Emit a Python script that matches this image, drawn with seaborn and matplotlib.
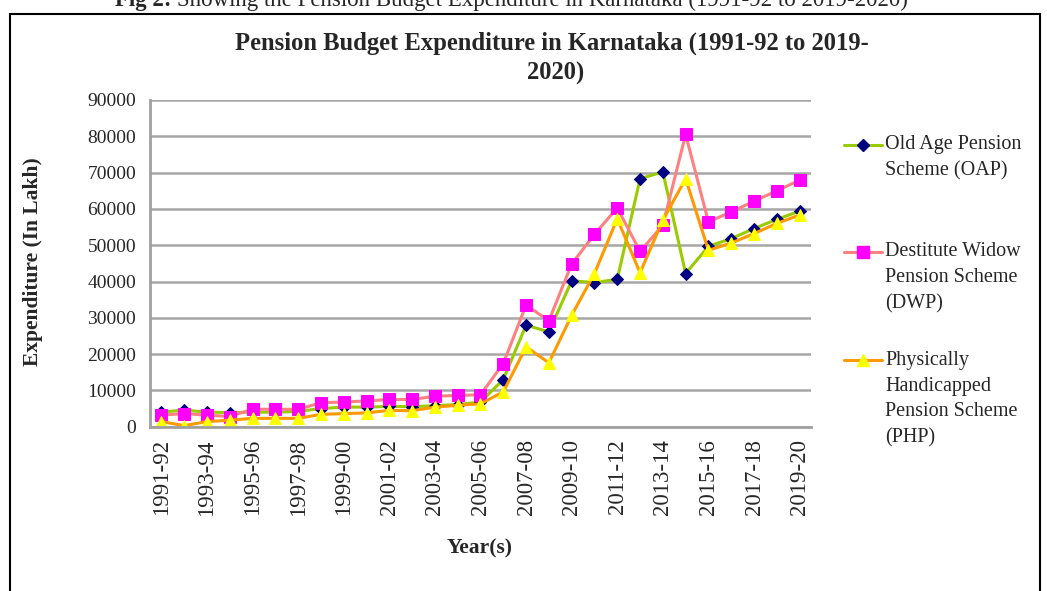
import numpy as np
import pandas as pd
import matplotlib.pyplot as plt
import seaborn as sns
from matplotlib.lines import Line2D
from matplotlib.patches import Rectangle

# Dados (em Lakh)
years = ['1991-92', '1992-93', '1993-94', '1994-95', '1995-96', '1996-97', '1997-98',
         '1998-99', '1999-00', '2000-01', '2001-02', '2002-03', '2003-04', '2004-05',
         '2005-06', '2006-07', '2007-08', '2008-09', '2009-10', '2010-11', '2011-12',
         '2012-13', '2013-14', '2014-15', '2015-16', '2016-17', '2017-18', '2018-19',
         '2019-20']
oap = [4000, 4600, 4000, 3900, 4000, 4000, 4200, 5000, 5400, 5400, 5600, 5500, 5800, 6100,
       6800, 13000, 28000, 26100, 40200, 39700, 40600, 68300, 70200, 42200, 49700, 51800,
       54600, 57100, 59400]
dwp = [3200, 3600, 3200, 2800, 4800, 4800, 4800, 6600, 6800, 7100, 7500, 7500, 8400, 8600,
       8800, 17400, 33500, 29200, 44800, 53000, 60300, 48300, 55500, 80500, 56400, 59200,
       62100, 65000, 67900]
php = [1400, 300, 1400, 1800, 2300, 2300, 2300, 3400, 3600, 3800, 4500, 4400, 5400, 5900,
       6300, 9600, 22000, 17600, 30700, 42200, 57300, 42400, 56900, 68300, 48600, 50600,
       53200, 56000, 58300]

df = pd.DataFrame({'year': years, 'OAP': oap, 'DWP': dwp, 'PHP': php})

# (coluna, cor da linha, marcador, cor do marcador, tamanho, rótulo)
series = [
    ('OAP', '#99CC00', 'D', '#000080', 6, 'Old Age Pension\nScheme (OAP)'),
    ('DWP', '#FF8080', 's', '#FF00FF', 8, 'Destitute Widow\nPension Scheme\n(DWP)'),
    ('PHP', '#FF9900', '^', '#FFFF00', 9, 'Physically\nHandicapped\nPension Scheme\n(PHP)'),
]

sns.set_style('white')
plt.rcParams['font.family'] = ['Liberation Serif', 'DejaVu Serif']

W, H = 1047, 591
fig = plt.figure(figsize=(W / 100, H / 100), dpi=100)
ax = fig.add_axes([150 / W, 1 - 426.7 / H, (811 - 150) / W, (426.7 - 100) / H])

for col, lc, mk, mc, ms, label in series:
    sns.lineplot(data=df, x='year', y=col, ax=ax, color=lc, linewidth=2.2, sort=False,
                 marker=mk, markersize=ms, markerfacecolor=mc, markeredgecolor=mc)

ax.set_xlim(-0.5, len(years) - 0.5)
ax.set_ylim(0, 90000)
ax.set_yticks(range(0, 90001, 10000))
ax.set_yticklabels([str(v) for v in range(0, 90001, 10000)], fontsize=14)
ax.set_xticks(range(0, len(years), 2))
ax.set_xticklabels(years[::2], rotation=90, fontsize=16.5)
ax.set_xticks(np.arange(-0.5, len(years), 1), minor=True)
ax.tick_params(axis='x', which='major', length=0, pad=9)
ax.tick_params(axis='x', which='minor', length=10, width=2, color='#A0A0A0', direction='out')
ax.tick_params(axis='y', length=0, pad=10)
ax.yaxis.grid(True, color='#A6A6A6', linewidth=1.8)
ax.set_axisbelow(True)
for s in ['top', 'right']:
    ax.spines[s].set_visible(False)
for s in ['left', 'bottom']:
    ax.spines[s].set_color('#A0A0A0')
    ax.spines[s].set_linewidth(2)
ax.set_xlabel('')
ax.set_ylabel('')

# Títulos e rótulos dos eixos
fig.text(552 / W, 1 - 43 / H, 'Pension Budget Expenditure in Karnataka (1991-92 to 2019-',
         ha='center', va='center', fontsize=17.7, fontweight='bold')
fig.text(556 / W, 1 - 73 / H, '2020)', ha='center', va='center', fontsize=17.7,
         fontweight='bold')
fig.text(33 / W, 1 - 262 / H, 'Expenditure (In Lakh)', rotation=90, ha='center', va='center',
         fontsize=15.5, fontweight='bold')
fig.text(480 / W, 1 - 548 / H, 'Year(s)', ha='center', va='center', fontsize=15.5,
         fontweight='bold')

# Legenda manual (marcador alinhado com a primeira linha do texto)
legend_y = [145, 252, 360]
for (col, lc, mk, mc, ms, label), y0 in zip(series, legend_y):
    fy = 1 - y0 / H
    fig.add_artist(Line2D([844 / W, 882 / W], [fy, fy], transform=fig.transFigure,
                          color=lc, linewidth=2.2))
    fig.add_artist(Line2D([863 / W], [fy], transform=fig.transFigure, marker=mk,
                          markersize=ms, color=mc, linestyle='none'))
    for k, line in enumerate(label.split('\n')):
        fig.text(885 / W, 1 - (y0 + 26 * k) / H, line, ha='left', va='center', fontsize=14.5)

# Moldura e legenda da figura cortada no topo
fig.add_artist(Rectangle((10 / W, -0.05), 1030 / W, 1.05 - 14 / H, transform=fig.transFigure,
                         fill=False, edgecolor='black', linewidth=1.5))
fig.text(172 / W, 1 - 6 / H, 'Fig 2:', ha='right', va='baseline', fontsize=16.5,
         fontweight='bold')
fig.text(177 / W, 1 - 6 / H,
         'Showing the Pension Budget Expenditure in Karnataka (1991-92 to 2019-2020)',
         ha='left', va='baseline', fontsize=16.5)

fig.savefig('out.png', dpi=100)
